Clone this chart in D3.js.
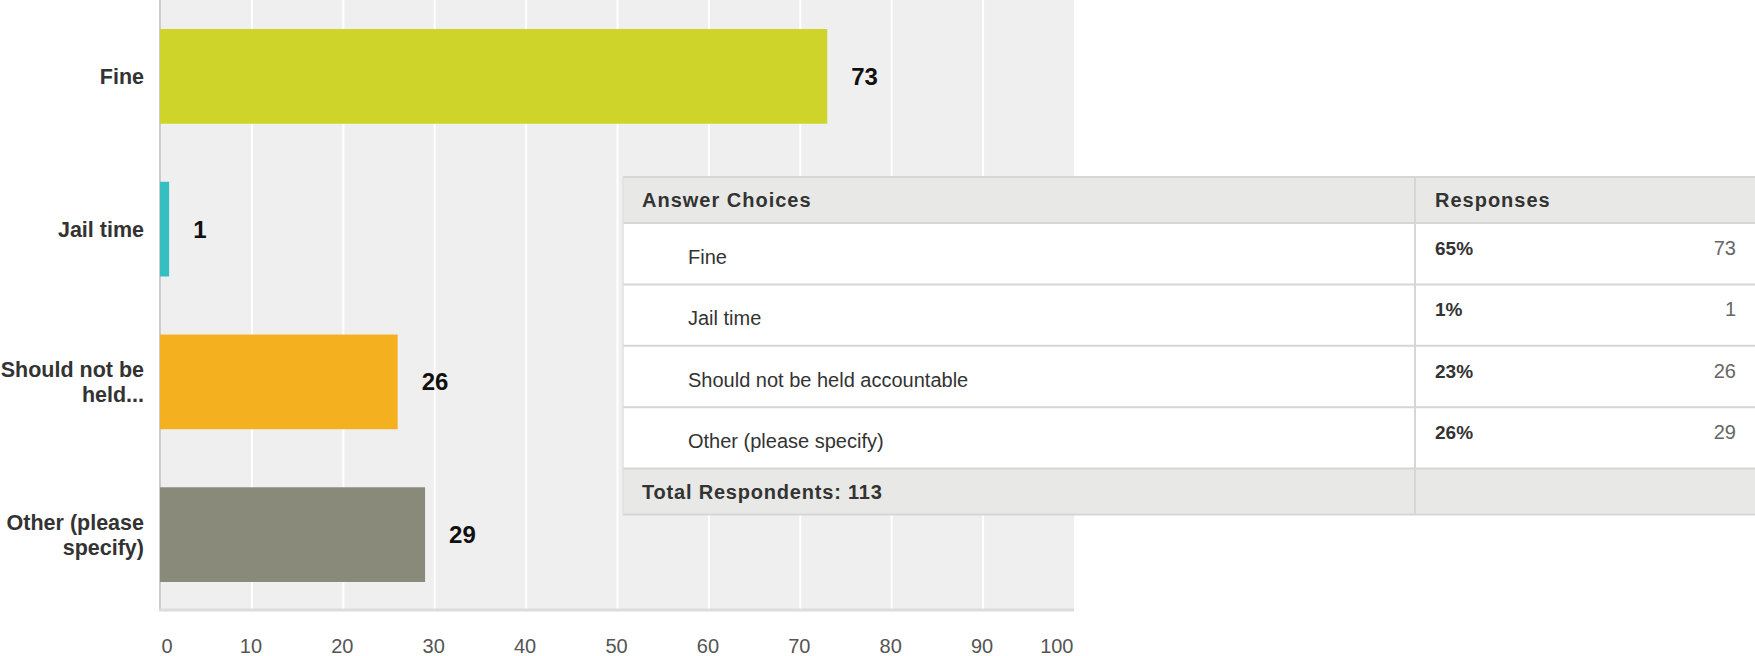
<!DOCTYPE html>
<html>
<head>
<meta charset="utf-8">
<script src="https://cdn.jsdelivr.net/npm/d3@7"></script>
<style>
  html, body { margin: 0; padding: 0; background: #ffffff; overflow: hidden; }
  svg { display: block; font-family: "Liberation Sans", Arial, Helvetica, sans-serif; }
</style>
</head>
<body>
<svg id="chart" width="1755" height="656"></svg>
<script>
// ---- data ----
const categories = ["Fine", "Jail time", "Should not be held accountable", "Other (please specify)"];
const axisLabels = [["Fine"], ["Jail time"], ["Should not be", "held..."], ["Other (please", "specify)"]];
const values = [73, 1, 26, 29];
const percents = ["65%", "1%", "23%", "26%"];
const barColors = ["#cfd42a", "#35bfc0", "#f5b01f", "#898a79"];
const xTicks = [0, 10, 20, 30, 40, 50, 60, 70, 80, 90, 100];
const totalLabel = "Total Respondents: 113";
const headerLabels = ["Answer Choices", "Responses"];

// ---- layout ----
const svg = d3.select("#chart");
const plot = { left: 160, right: 1074, top: 0, bottom: 611 };

const x = d3.scaleLinear().domain([0, 100]).range([plot.left, plot.right]);
const y = d3.scaleBand().domain(categories).range([plot.top, plot.bottom])
  .paddingInner(0.38).paddingOuter(0.19);

// plot background
svg.append("rect")
  .attr("x", plot.left).attr("y", plot.top)
  .attr("width", plot.right - plot.left).attr("height", plot.bottom - plot.top)
  .attr("fill", "#efefef");

// gridlines via axis
const grid = svg.append("g")
  .attr("transform", `translate(0,${plot.bottom})`)
  .call(d3.axisBottom(x).tickValues(xTicks.filter(t => t > 0 && t < 100))
    .tickSize(-(plot.bottom - plot.top)).tickFormat(""));
grid.select(".domain").remove();
grid.selectAll(".tick line").attr("stroke", "#ffffff").attr("stroke-width", 2);

// axis lines
svg.append("line").attr("x1", plot.left).attr("x2", plot.left)
  .attr("y1", plot.top).attr("y2", plot.bottom)
  .attr("stroke", "#cccccc").attr("stroke-width", 2);
svg.append("line").attr("x1", plot.left - 1).attr("x2", plot.right)
  .attr("y1", plot.bottom - 1).attr("y2", plot.bottom - 1)
  .attr("stroke", "#dcdcdc").attr("stroke-width", 3);

// x tick labels
const xAxis = svg.append("g")
  .attr("transform", `translate(0,${plot.bottom})`)
  .call(d3.axisBottom(x).tickValues(xTicks).tickSize(0).tickPadding(0));
xAxis.select(".domain").remove();
xAxis.selectAll(".tick text")
  .attr("y", 42).attr("dy", 0)
  .attr("font-size", 20).attr("fill", "#555555")
  .attr("font-family", "Liberation Sans, Arial, sans-serif")
  .attr("text-anchor", (d, i) => i === 0 ? "start" : (i === xTicks.length - 1 ? "end" : "middle"))
  .attr("x", (d, i) => i === 0 ? 1 : -1);

// bars
svg.append("g").selectAll("rect")
  .data(categories)
  .join("rect")
  .attr("x", x(0))
  .attr("y", d => y(d))
  .attr("width", (d, i) => x(values[i]) - x(0))
  .attr("height", y.bandwidth())
  .attr("fill", (d, i) => barColors[i]);

// value labels
svg.append("g").selectAll("text")
  .data(categories)
  .join("text")
  .attr("x", (d, i) => x(values[i]) + 24)
  .attr("y", d => y(d) + y.bandwidth() / 2 + 8.5)
  .attr("font-size", 24).attr("font-weight", "bold").attr("fill", "#111111")
  .text((d, i) => values[i]);

// category labels via left axis
const yAxis = svg.append("g")
  .attr("transform", `translate(${plot.left},0)`)
  .call(d3.axisLeft(y).tickSize(0).tickPadding(16).tickFormat(""));
yAxis.select(".domain").remove();
yAxis.selectAll(".tick").each(function (d, i) {
  const lines = axisLabels[i];
  const t = d3.select(this).select("text")
    .attr("font-size", 21.5).attr("font-weight", "bold").attr("fill", "#333333")
    .attr("font-family", "Liberation Sans, Arial, sans-serif")
    .attr("x", -16).attr("dy", null).attr("text-anchor", "end");
  const lh = 25;
  const first = 7.5 - (lines.length - 1) * lh / 2;
  lines.forEach((ln, k) => {
    t.append("tspan").attr("x", -16).attr("y", first + k * lh).text(ln);
  });
});

// ---- table ----
const tbl = { left: 623, right: 1760, top: 177, headerH: 46, rowH: 61.4, footerH: 46, divX: 1415 };
const rowTop = i => tbl.top + tbl.headerH + i * tbl.rowH;
const footTop = rowTop(categories.length);
const tg = svg.append("g");

tg.append("rect").attr("x", tbl.left).attr("y", tbl.top)
  .attr("width", tbl.right - tbl.left).attr("height", footTop + tbl.footerH - tbl.top)
  .attr("fill", "#ffffff");
tg.append("rect").attr("x", tbl.left).attr("y", tbl.top)
  .attr("width", tbl.right - tbl.left).attr("height", tbl.headerH)
  .attr("fill", "#e8e8e6");
tg.append("rect").attr("x", tbl.left).attr("y", footTop)
  .attr("width", tbl.right - tbl.left).attr("height", tbl.footerH)
  .attr("fill", "#e8e8e6");

// horizontal rules
const hLines = [tbl.top, ...categories.map((c, i) => rowTop(i)), footTop, footTop + tbl.footerH];
tg.selectAll("line.h").data(hLines).join("line").attr("class", "h")
  .attr("x1", tbl.left).attr("x2", tbl.right)
  .attr("y1", d => d).attr("y2", d => d)
  .attr("stroke", "#d6d6d6").attr("stroke-width", 2);
// vertical rules
tg.append("line").attr("x1", tbl.left).attr("x2", tbl.left)
  .attr("y1", tbl.top).attr("y2", footTop + tbl.footerH)
  .attr("stroke", "#e0e0e0").attr("stroke-width", 1.5);
tg.append("line").attr("x1", tbl.divX).attr("x2", tbl.divX)
  .attr("y1", tbl.top).attr("y2", footTop + tbl.footerH)
  .attr("stroke", "#d6d6d6").attr("stroke-width", 2);

// header text
tg.append("text").attr("x", 642).attr("y", tbl.top + 30)
  .attr("font-size", 20).attr("font-weight", "bold").attr("fill", "#333333")
  .attr("letter-spacing", 1).text(headerLabels[0]);
tg.append("text").attr("x", 1435).attr("y", tbl.top + 30)
  .attr("font-size", 20).attr("font-weight", "bold").attr("fill", "#333333")
  .attr("letter-spacing", 1).text(headerLabels[1]);

// rows
categories.forEach((c, i) => {
  tg.append("text").attr("x", 688).attr("y", rowTop(i) + 41)
    .attr("font-size", 20).attr("fill", "#333333").text(c);
  tg.append("text").attr("x", 1435).attr("y", rowTop(i) + 32)
    .attr("font-size", 19).attr("font-weight", "bold").attr("fill", "#333333").text(percents[i]);
  tg.append("text").attr("x", 1736).attr("y", rowTop(i) + 32)
    .attr("font-size", 20).attr("fill", "#666666").attr("text-anchor", "end").text(values[i]);
});

// footer
tg.append("text").attr("x", 642).attr("y", footTop + 30)
  .attr("font-size", 20).attr("font-weight", "bold").attr("fill", "#333333")
  .attr("letter-spacing", 0.8).text(totalLabel);
</script>
</body>
</html>
